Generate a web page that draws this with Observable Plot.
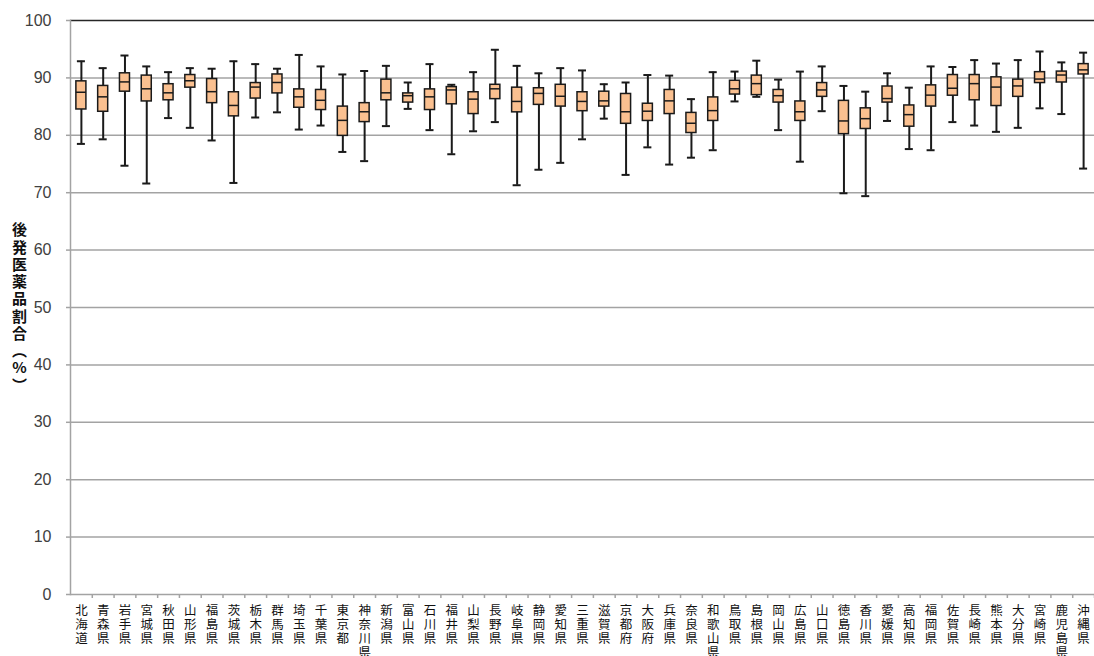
<!DOCTYPE html>
<html>
<head>
<meta charset="utf-8">
<script src="https://cdn.jsdelivr.net/npm/d3@7"></script>
<script src="https://cdn.jsdelivr.net/npm/@observablehq/plot@0.6"></script>
<style>
  html, body { margin: 0; padding: 0; background: #fff; overflow: hidden; }
  #chart svg { display: block; }
</style>
</head>
<body>
<div id="chart"></div>
<script>
const prefectures = ["北海道","青森県","岩手県","宮城県","秋田県","山形県","福島県","茨城県","栃木県","群馬県","埼玉県","千葉県","東京都","神奈川県","新潟県","富山県","石川県","福井県","山梨県","長野県","岐阜県","静岡県","愛知県","三重県","滋賀県","京都府","大阪府","兵庫県","奈良県","和歌山県","鳥取県","島根県","岡山県","広島県","山口県","徳島県","香川県","愛媛県","高知県","福岡県","佐賀県","長崎県","熊本県","大分県","宮崎県","鹿児島県","沖縄県"];
const whiskerLow = [78.5,79.3,74.7,71.6,83.0,81.3,79.1,71.7,83.1,84.0,81.0,81.7,77.1,75.5,81.6,84.6,80.9,76.7,80.7,82.3,71.3,74.0,75.2,79.3,82.9,73.1,77.9,74.9,76.1,77.4,85.9,86.7,80.9,75.4,84.2,69.9,69.4,82.5,77.6,77.4,82.3,81.7,80.6,81.3,84.7,83.7,74.2];
const quartile1 = [84.5,84.1,87.6,85.9,86.1,88.3,85.6,83.3,86.4,87.3,84.8,84.4,79.9,82.3,86.1,85.7,84.4,85.4,83.7,86.3,84.0,85.3,85.0,84.2,85.0,82.0,82.5,83.7,80.4,82.5,87.1,87.0,85.7,82.5,86.7,80.2,81.1,85.7,81.5,85.0,86.9,86.1,85.1,86.7,89.1,89.2,90.6];
const medians = [87.5,86.7,89.3,88.1,87.4,89.5,87.6,85.2,88.4,89.2,86.7,86.1,82.6,84.1,87.4,86.9,86.7,87.9,86.3,88.1,85.9,87.3,86.8,85.9,86.0,84.1,84.2,86.0,82.1,84.3,88.1,89.0,86.9,84.1,87.9,82.5,82.9,86.4,83.6,87.0,88.2,89.0,88.4,88.6,89.8,90.5,91.4];
const quartile3 = [89.4,88.6,90.8,90.4,88.9,90.5,89.8,87.5,89.1,90.6,88.0,87.9,85.0,85.6,89.7,87.3,88.0,88.4,87.5,88.8,88.3,88.2,88.8,87.5,87.6,87.2,85.5,87.9,83.9,86.6,89.5,90.4,87.9,85.9,89.1,86.0,84.7,88.5,85.2,88.7,90.5,90.5,90.1,89.7,91.0,91.1,92.4];
const whiskerHigh = [92.9,91.7,93.9,92.0,91.0,91.7,91.6,92.9,92.4,91.6,94.0,92.0,90.6,91.2,92.1,89.2,92.4,88.8,91.0,94.9,92.1,90.8,91.7,91.3,88.9,89.2,90.5,90.4,86.3,91.0,91.1,93.0,89.7,91.1,92.0,88.6,87.6,90.8,88.3,92.0,91.9,93.1,92.5,93.1,94.6,92.7,94.4];
const yTicks = [0,10,20,30,40,50,60,70,80,90,100];
const yLabel = "後発医薬品割合︵%︶";

const rows = prefectures.map((name, i) => ({
  name, lo: whiskerLow[i], q1: quartile1[i], med: medians[i], q3: quartile3[i], hi: whiskerHigh[i]
}));

const W = 1094, H = 656, mL = 70, mR = 0;
const step = (W - mL - mR) / prefectures.length;
const ink = "#1a1a1a";
const grid = "#a3a3a3";

const chart = Plot.plot({
  width: W,
  height: H,
  marginLeft: mL,
  marginRight: mR,
  marginTop: 20,
  marginBottom: 62,
  style: {fontFamily: "'Liberation Sans', 'Noto Sans CJK JP', sans-serif", background: "#fff"},
  x: {domain: prefectures, paddingInner: 0.54, paddingOuter: 0.27, axis: null},
  y: {domain: [0, 100], axis: null},
  marks: [
    Plot.gridY(yTicks.filter(t => t > 0 && t < 100), {stroke: grid, strokeOpacity: 1, strokeWidth: 1.5}),
    Plot.axisY(yTicks, {tickSize: 4, tickPadding: 15, fontSize: 16, fill: "#404040", stroke: grid, strokeWidth: 1.5, label: null}),
    Plot.ruleY([100], {stroke: "#262626", strokeWidth: 1.6}),
    Plot.ruleY([0], {stroke: grid, strokeWidth: 1.5}),
    Plot.frame({anchor: "left", stroke: grid, strokeWidth: 1.5}),
    Plot.axisX({tickSize: 4, dx: step / 2, tickFormat: () => "", stroke: grid, strokeWidth: 1.5, label: null}),
    Plot.ruleX(rows, {x: "name", y1: "lo", y2: "hi", stroke: ink, strokeWidth: 2}),
    Plot.tickY(rows, {x: "name", y: "hi", stroke: ink, strokeWidth: 2, insetLeft: 1, insetRight: 1}),
    Plot.tickY(rows, {x: "name", y: "lo", stroke: ink, strokeWidth: 2, insetLeft: 1, insetRight: 1}),
    Plot.barY(rows, {x: "name", y1: "q1", y2: "q3", fill: "#FAC090", stroke: ink, strokeWidth: 1.5}),
    Plot.tickY(rows, {x: "name", y: "med", stroke: ink, strokeWidth: 1.5}),
    Plot.text(prefectures, {
      x: d => d, frameAnchor: "bottom", lineAnchor: "top", dy: 10,
      text: d => [...d].join("\n"), fontSize: 12.5, lineHeight: 1.13, fill: "#111",
      fontFamily: "'Noto Sans CJK JP', sans-serif"
    }),
    Plot.text([yLabel], {
      frameAnchor: "left", textAnchor: "middle", dx: -51, text: d => [...d].join("\n"),
      fontSize: 15, fontWeight: "bold", lineHeight: 1.15, fill: "#111",
      fontFamily: "'Noto Sans CJK JP', sans-serif"
    })
  ]
});
document.getElementById("chart").append(chart);
</script>
</body>
</html>
